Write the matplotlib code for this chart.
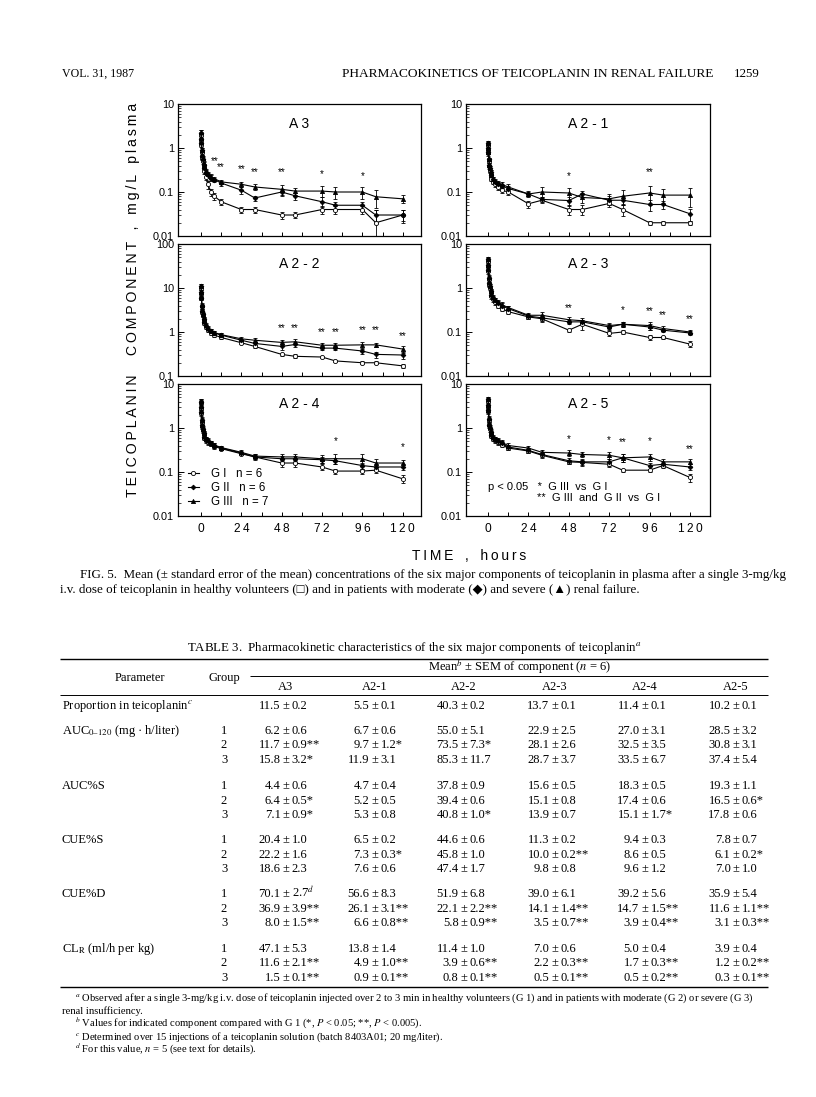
import matplotlib
matplotlib.use('Agg')
import matplotlib.pyplot as plt
from matplotlib.lines import Line2D
from matplotlib.ticker import FixedLocator, LogLocator, NullFormatter

plt.rcParams['font.family'] = ['Liberation Sans', 'DejaVu Sans']
plt.rcParams['mathtext.fontset'] = 'stix'

# sampling times (hours)
times = [0.08, 0.17, 0.25, 0.5, 0.75, 1, 1.5, 2, 3, 4, 6, 8, 12, 24, 32, 48, 56, 72, 80, 96, 104, 120]

# A3
a3_g1 = [2.0, 1.5, 1.2, 0.8, 0.6, 0.5, 0.38, 0.3, 0.22, 0.15, 0.1, 0.08, 0.06, 0.04, 0.04, 0.03, 0.03, 0.04, 0.04, 0.04, 0.02, 0.03]
a3_g2 = [2.2, 1.6, 1.3, 0.9, 0.65, 0.55, 0.42, 0.35, 0.28, 0.24, 0.21, 0.19, 0.16, 0.11, 0.073, 0.1, 0.082, 0.06, 0.05, 0.05, 0.03, 0.03]
a3_g3 = [2.3, 1.7, 1.35, 0.9, 0.7, 0.6, 0.45, 0.38, 0.3, 0.25, 0.22, 0.2, 0.17, 0.15, 0.13, 0.115, 0.105, 0.105, 0.1, 0.1, 0.078, 0.07]
a3_g1_err = [0.3, 0.2, 0.15, 0.1, 0.08, 0.06, 0.05, 0.04, 0.03, 0.03, 0.02, 0.015, 0.01, 0.006, 0.006, 0.006, 0.005, 0.008, 0.008, 0.008, 0.018, 0.008]
a3_g2_err = [0.3, 0.2, 0.15, 0.1, 0.08, 0.06, 0.05, 0.04, 0.03, 0.03, 0.03, 0.02, 0.02, 0.02, 0.01, 0.02, 0.015, 0.015, 0.01, 0.01, 0.01, 0.01]
a3_g3_err = [0.3, 0.2, 0.15, 0.1, 0.08, 0.06, 0.05, 0.04, 0.03, 0.03, 0.03, 0.02, 0.02, 0.02, 0.02, 0.03, 0.02, 0.03, 0.03, 0.03, 0.035, 0.015]
a3_stars = [(8, 0.5, '**'), (12, 0.37, '**'), (24, 0.34, '**'), (32, 0.29, '**'), (48, 0.29, '**'), (72, 0.26, '*'), (96, 0.23, '*')]

# A2-1
a21_g1 = [1.2, 0.9, 0.75, 0.5, 0.38, 0.3, 0.24, 0.2, 0.17, 0.15, 0.13, 0.11, 0.1, 0.054, 0.065, 0.04, 0.04, 0.055, 0.04, 0.02, 0.02, 0.02]
a21_g2 = [1.3, 1.0, 0.8, 0.55, 0.42, 0.35, 0.28, 0.24, 0.2, 0.17, 0.15, 0.14, 0.12, 0.09, 0.068, 0.064, 0.09, 0.065, 0.065, 0.052, 0.052, 0.032]
a21_g3 = [1.3, 1.0, 0.8, 0.55, 0.42, 0.35, 0.28, 0.24, 0.2, 0.18, 0.16, 0.15, 0.13, 0.09, 0.1, 0.095, 0.075, 0.07, 0.08, 0.095, 0.085, 0.085]
a21_g1_err = [0.15, 0.1, 0.08, 0.05, 0.04, 0.03, 0.03, 0.02, 0.02, 0.02, 0.02, 0.015, 0.015, 0.01, 0.01, 0.01, 0.01, 0.01, 0.012, 0.002, 0.002, 0.002]
a21_g2_err = [0.15, 0.1, 0.08, 0.05, 0.04, 0.03, 0.03, 0.02, 0.02, 0.02, 0.02, 0.015, 0.015, 0.01, 0.01, 0.015, 0.015, 0.015, 0.015, 0.015, 0.01, 0.01]
a21_g3_err = [0.15, 0.1, 0.08, 0.05, 0.04, 0.03, 0.03, 0.02, 0.02, 0.02, 0.02, 0.02, 0.02, 0.015, 0.03, 0.03, 0.02, 0.02, 0.03, 0.045, 0.03, 0.04]
a21_stars = [(48, 0.23, '*'), (96, 0.28, '**')]

# A2-2
a22_g1 = [10, 7.5, 5.8, 3.8, 2.9, 2.4, 1.9, 1.6, 1.3, 1.1, 0.95, 0.85, 0.75, 0.57, 0.47, 0.31, 0.28, 0.27, 0.22, 0.2, 0.2, 0.17]
a22_g2 = [11, 8, 6, 4, 3, 2.5, 2, 1.7, 1.4, 1.2, 1.05, 0.95, 0.85, 0.65, 0.55, 0.47, 0.52, 0.43, 0.43, 0.37, 0.31, 0.3]
a22_g3 = [11, 8.2, 6.2, 4.1, 3.1, 2.6, 2.05, 1.75, 1.45, 1.25, 1.08, 0.97, 0.87, 0.7, 0.65, 0.58, 0.6, 0.5, 0.5, 0.51, 0.51, 0.41]
a22_g1_err = [1.0, 0.8, 0.6, 0.4, 0.3, 0.25, 0.2, 0.15, 0.12, 0.1, 0.08, 0.07, 0.05, 0.04, 0.03, 0.02, 0.03, 0.02, 0.015, 0.015, 0.015, 0.015]
a22_g2_err = [1.2, 0.9, 0.7, 0.4, 0.3, 0.25, 0.2, 0.15, 0.12, 0.1, 0.1, 0.09, 0.08, 0.06, 0.05, 0.07, 0.07, 0.05, 0.05, 0.05, 0.05, 0.06]
a22_g3_err = [1.2, 0.9, 0.7, 0.4, 0.3, 0.25, 0.2, 0.15, 0.12, 0.1, 0.1, 0.09, 0.08, 0.07, 0.07, 0.08, 0.08, 0.06, 0.06, 0.07, 0.06, 0.07]
a22_stars = [(48, 1.2, '**'), (56, 1.2, '**'), (72, 1.0, '**'), (80, 1.0, '**'), (96, 1.1, '**'), (104, 1.1, '**'), (120, 0.8, '**')]

# A2-3
a23_g1 = [4.2, 3.1, 2.4, 1.6, 1.2, 1.0, 0.8, 0.65, 0.55, 0.47, 0.4, 0.34, 0.29, 0.22, 0.2, 0.11, 0.15, 0.093, 0.1, 0.075, 0.075, 0.053]
a23_g2 = [4.5, 3.3, 2.6, 1.7, 1.3, 1.1, 0.85, 0.7, 0.6, 0.52, 0.45, 0.4, 0.34, 0.23, 0.21, 0.17, 0.17, 0.13, 0.15, 0.13, 0.11, 0.095]
a23_g3 = [4.6, 3.4, 2.7, 1.75, 1.35, 1.12, 0.87, 0.72, 0.62, 0.54, 0.47, 0.42, 0.36, 0.24, 0.24, 0.19, 0.18, 0.14, 0.15, 0.14, 0.12, 0.1]
a23_g1_err = [0.5, 0.4, 0.3, 0.2, 0.15, 0.12, 0.1, 0.08, 0.07, 0.06, 0.05, 0.04, 0.03, 0.02, 0.03, 0.01, 0.04, 0.01, 0.01, 0.01, 0.005, 0.008]
a23_g2_err = [0.5, 0.4, 0.3, 0.2, 0.15, 0.12, 0.1, 0.08, 0.07, 0.06, 0.06, 0.05, 0.04, 0.03, 0.03, 0.02, 0.02, 0.02, 0.02, 0.02, 0.01, 0.01]
a23_g3_err = [0.5, 0.4, 0.3, 0.2, 0.15, 0.12, 0.1, 0.08, 0.07, 0.06, 0.06, 0.05, 0.04, 0.03, 0.04, 0.03, 0.03, 0.02, 0.02, 0.03, 0.015, 0.01]
a23_stars = [(48, 0.35, '**'), (80, 0.32, '*'), (96, 0.3, '**'), (104, 0.24, '**'), (120, 0.2, '**')]

# A2-4
a24_g1 = [3.8, 2.8, 2.2, 1.4, 1.1, 0.9, 0.72, 0.6, 0.52, 0.47, 0.43, 0.38, 0.34, 0.26, 0.22, 0.16, 0.16, 0.13, 0.105, 0.105, 0.11, 0.07]
a24_g2 = [4.0, 3.0, 2.3, 1.5, 1.15, 0.95, 0.75, 0.63, 0.55, 0.5, 0.45, 0.4, 0.35, 0.27, 0.22, 0.2, 0.2, 0.19, 0.18, 0.14, 0.13, 0.13]
a24_g3 = [4.1, 3.1, 2.4, 1.55, 1.2, 0.97, 0.77, 0.65, 0.57, 0.52, 0.46, 0.41, 0.36, 0.28, 0.23, 0.22, 0.22, 0.2, 0.2, 0.2, 0.16, 0.16]
a24_g1_err = [0.5, 0.4, 0.3, 0.2, 0.15, 0.12, 0.1, 0.08, 0.07, 0.06, 0.05, 0.05, 0.03, 0.02, 0.02, 0.03, 0.03, 0.02, 0.015, 0.015, 0.015, 0.015]
a24_g2_err = [0.5, 0.4, 0.3, 0.2, 0.15, 0.12, 0.1, 0.08, 0.07, 0.06, 0.05, 0.05, 0.04, 0.03, 0.03, 0.03, 0.03, 0.03, 0.03, 0.02, 0.02, 0.02]
a24_g3_err = [0.5, 0.4, 0.3, 0.2, 0.15, 0.12, 0.1, 0.08, 0.07, 0.06, 0.05, 0.05, 0.04, 0.03, 0.03, 0.04, 0.04, 0.04, 0.05, 0.05, 0.04, 0.03]
a24_stars = [(80, 0.5, '*'), (120, 0.36, '*')]

# A2-5
a25_g1 = [4.2, 3.1, 2.4, 1.5, 1.15, 0.95, 0.76, 0.66, 0.57, 0.52, 0.47, 0.42, 0.35, 0.3, 0.24, 0.17, 0.165, 0.15, 0.11, 0.11, 0.14, 0.075]
a25_g2 = [4.5, 3.3, 2.5, 1.6, 1.2, 1.0, 0.8, 0.7, 0.6, 0.55, 0.5, 0.45, 0.37, 0.31, 0.25, 0.18, 0.17, 0.17, 0.21, 0.14, 0.15, 0.13]
a25_g3 = [4.6, 3.4, 2.6, 1.65, 1.25, 1.05, 0.83, 0.72, 0.62, 0.57, 0.52, 0.47, 0.4, 0.35, 0.28, 0.27, 0.25, 0.24, 0.21, 0.22, 0.17, 0.17]
a25_g1_err = [0.5, 0.4, 0.3, 0.2, 0.15, 0.12, 0.1, 0.08, 0.07, 0.06, 0.05, 0.05, 0.04, 0.03, 0.03, 0.02, 0.02, 0.02, 0.01, 0.01, 0.015, 0.015]
a25_g2_err = [0.5, 0.4, 0.3, 0.2, 0.15, 0.12, 0.1, 0.08, 0.07, 0.06, 0.06, 0.05, 0.05, 0.04, 0.03, 0.03, 0.03, 0.03, 0.04, 0.02, 0.02, 0.02]
a25_g3_err = [0.5, 0.4, 0.3, 0.2, 0.15, 0.12, 0.1, 0.08, 0.07, 0.06, 0.06, 0.05, 0.05, 0.05, 0.04, 0.04, 0.03, 0.04, 0.04, 0.04, 0.03, 0.03]
a25_stars = [(48, 0.55, '*'), (72, 0.52, '*'), (80, 0.48, '**'), (96, 0.5, '*'), (120, 0.33, '**')]

legend_labels = ['G I   n = 6', 'G II   n = 6', 'G III   n = 7']

# table 3
components = ['A3', 'A2-1', 'A2-2', 'A2-3', 'A2-4', 'A2-5']
proportion = ['11.5 ± 0.2', '5.5 ± 0.1', '40.3 ± 0.2', '13.7 ± 0.1', '11.4 ± 0.1', '10.2 ± 0.1']
auc = [['6.2 ± 0.6', '6.7 ± 0.6', '55.0 ± 5.1', '22.9 ± 2.5', '27.0 ± 3.1', '28.5 ± 3.2'],
       ['11.7 ± 0.9**', '9.7 ± 1.2*', '73.5 ± 7.3*', '28.1 ± 2.6', '32.5 ± 3.5', '30.8 ± 3.1'],
       ['15.8 ± 3.2*', '11.9 ± 3.1', '85.3 ± 11.7', '28.7 ± 3.7', '33.5 ± 6.7', '37.4 ± 5.4']]
auc_s = [['4.4 ± 0.6', '4.7 ± 0.4', '37.8 ± 0.9', '15.6 ± 0.5', '18.3 ± 0.5', '19.3 ± 1.1'],
         ['6.4 ± 0.5*', '5.2 ± 0.5', '39.4 ± 0.6', '15.1 ± 0.8', '17.4 ± 0.6', '16.5 ± 0.6*'],
         ['7.1 ± 0.9*', '5.3 ± 0.8', '40.8 ± 1.0*', '13.9 ± 0.7', '15.1 ± 1.7*', '17.8 ± 0.6']]
cue_s = [['20.4 ± 1.0', '6.5 ± 0.2', '44.6 ± 0.6', '11.3 ± 0.2', '9.4 ± 0.3', '7.8 ± 0.7'],
         ['22.2 ± 1.6', '7.3 ± 0.3*', '45.8 ± 1.0', '10.0 ± 0.2**', '8.6 ± 0.5', '6.1 ± 0.2*'],
         ['18.6 ± 2.3', '7.6 ± 0.6', '47.4 ± 1.7', '9.8 ± 0.8', '9.6 ± 1.2', '7.0 ± 1.0']]
cue_d = [['70.1 ± 2.7$^{d}$', '56.6 ± 8.3', '51.9 ± 6.8', '39.0 ± 6.1', '39.2 ± 5.6', '35.9 ± 5.4'],
         ['36.9 ± 3.9**', '26.1 ± 3.1**', '22.1 ± 2.2**', '14.1 ± 1.4**', '14.7 ± 1.5**', '11.6 ± 1.1**'],
         ['8.0 ± 1.5**', '6.6 ± 0.8**', '5.8 ± 0.9**', '3.5 ± 0.7**', '3.9 ± 0.4**', '3.1 ± 0.3**']]
cl_r = [['47.1 ± 5.3', '13.8 ± 1.4', '11.4 ± 1.0', '7.0 ± 0.6', '5.0 ± 0.4', '3.9 ± 0.4'],
        ['11.6 ± 2.1**', '4.9 ± 1.0**', '3.9 ± 0.6**', '2.2 ± 0.3**', '1.7 ± 0.3**', '1.2 ± 0.2**'],
        ['1.5 ± 0.1**', '0.9 ± 0.1**', '0.8 ± 0.1**', '0.5 ± 0.1**', '0.5 ± 0.2**', '0.3 ± 0.1**']]
param_names = ['AUC$_{0\u2013120}$ (mg · h/liter)', 'AUC%S', 'CUE%S', 'CUE%D', 'CL$_{\\mathrm{R}}$ (ml/h per kg)']
param_blocks = [auc, auc_s, cue_s, cue_d, cl_r]


def spaced(s, gap='\u2009'):
    return gap.join(s)


W, H = 816, 1097
fig = plt.figure(figsize=(W / 100, H / 100), dpi=100)

# page axes in pixel coordinates for the text and the table
page = fig.add_axes([0, 0, 1, 1])
page.set_xlim(0, W)
page.set_ylim(H, 0)
page.axis('off')

serif = ['Liberation Serif', 'DejaVu Sans']

# header
page.text(62, 77, 'VOL. 31, 1987', family=serif, fontsize=8.6, va='baseline')
page.text(342, 77, 'PHARMACOKINETICS OF TEICOPLANIN IN RENAL FAILURE', family=serif, fontsize=9.6, va='baseline')
page.text(760, 77, '1259', family=serif, fontsize=9.4, va='baseline', ha='right')

# panels
col_x = [(178, 421, -13.7, 130.9), (466, 710, -13.1, 131.9)]
row_y = [(104, 236), (244, 376), (384, 516)]

panels = [
    ('A 3', a3_g1, a3_g2, a3_g3, a3_g1_err, a3_g2_err, a3_g3_err, a3_stars, (0.01, 10), 0, 0),
    ('A 2 - 1', a21_g1, a21_g2, a21_g3, a21_g1_err, a21_g2_err, a21_g3_err, a21_stars, (0.01, 10), 0, 1),
    ('A 2 - 2', a22_g1, a22_g2, a22_g3, a22_g1_err, a22_g2_err, a22_g3_err, a22_stars, (0.1, 100), 1, 0),
    ('A 2 - 3', a23_g1, a23_g2, a23_g3, a23_g1_err, a23_g2_err, a23_g3_err, a23_stars, (0.01, 10), 1, 1),
    ('A 2 - 4', a24_g1, a24_g2, a24_g3, a24_g1_err, a24_g2_err, a24_g3_err, a24_stars, (0.01, 10), 2, 0),
    ('A 2 - 5', a25_g1, a25_g2, a25_g3, a25_g1_err, a25_g2_err, a25_g3_err, a25_stars, (0.01, 10), 2, 1),
]

styles = [dict(marker='o', ms=3, mfc='white'),
          dict(marker='D', ms=2.4, mfc='black'),
          dict(marker='^', ms=3, mfc='black')]

decade_labels = {0.01: '0.01', 0.1: '0.1', 1: '1', 10: '10', 100: '100'}

for name, g1, g2, g3, e1, e2, e3, stars, ylim, r, c in panels:
    x0, x1, xmin, xmax = col_x[c]
    y0, y1 = row_y[r]
    ax = fig.add_axes([x0 / W, 1 - y1 / H, (x1 - x0) / W, (y1 - y0) / H])
    for vals, errs, st in zip([g1, g2, g3], [e1, e2, e3], styles):
        ax.errorbar(times, vals, yerr=errs, color='black', lw=0.8, mec='black', mew=0.6,
                    elinewidth=0.6, capsize=1.6, capthick=0.6, **st)
    for t, y, s in stars:
        ax.text(t, y, s, ha='center', va='center', fontsize=7)
    ax.set_yscale('log')
    ax.set_ylim(*ylim)
    ax.set_xlim(xmin, xmax)
    ticks = [v for v in [0.01, 0.1, 1, 10, 100] if ylim[0] <= v <= ylim[1]]
    ax.yaxis.set_major_locator(FixedLocator(ticks))
    ax.set_yticklabels([decade_labels[v] for v in ticks])
    ax.yaxis.set_minor_locator(LogLocator(subs=range(2, 10)))
    ax.yaxis.set_minor_formatter(NullFormatter())
    ax.set_xticks([0, 24, 48, 72, 96, 120])
    ax.set_xticks([12, 36, 60, 84, 108], minor=True)
    if r == 2:
        ax.set_xticklabels([spaced(str(v)) for v in [0, 24, 48, 72, 96, 120]], fontsize=8.6)
    else:
        ax.set_xticklabels([])
    ax.tick_params(which='both', direction='in', top=False, right=False)
    ax.tick_params(axis='y', which='major', length=4, width=0.7, labelsize=7.8, pad=3)
    ax.tick_params(axis='y', which='minor', length=2, width=0.5)
    ax.tick_params(axis='x', which='both', length=3, width=0.7, pad=5)
    for sp in ax.spines.values():
        sp.set_linewidth(0.9)
    ax.text(0.5, 0.85, name, transform=ax.transAxes, ha='center', va='center', fontsize=10)

    if name == 'A 2 - 4':
        handles = [Line2D([], [], color='black', lw=0.8, mec='black', mew=0.6, **st) for st in styles]
        ax.legend(handles, legend_labels, loc='lower left', bbox_to_anchor=(0.04, 0.06),
                  frameon=False, fontsize=8.3, handlelength=1.0, handletextpad=1.0,
                  labelspacing=0.18, borderpad=0, borderaxespad=0)
    if name == 'A 2 - 5':
        ax.text(0.09, 0.22, 'p < 0.05   *  G III  vs  G I', transform=ax.transAxes,
                fontsize=8, va='center')
        ax.text(0.29, 0.135, '**  G III  and  G II  vs  G I', transform=ax.transAxes,
                fontsize=8, va='center')

# shared axis titles
ylab = (spaced('TEICOPLANIN') + '     ' + spaced('COMPONENT') + '   ,   '
        + spaced('mg/L') + '   ' + spaced('plasma'))
page.text(133, 300, ylab, rotation=90, ha='center', va='center', fontsize=10.2)
page.text(469, 556, spaced('TIME') + '   ,   ' + spaced('hours'), ha='center', va='center', fontsize=10)

# figure caption
cfs = 9.35
page.text(80, 578, 'FIG. 5.  Mean (± standard error of the mean) concentrations of the six major components of '
          'teicoplanin in plasma after a single 3-mg/kg', family=serif, fontsize=cfs, va='baseline')
page.text(60, 593, 'i.v. dose of teicoplanin in healthy volunteers (\u25a1) and in patients with moderate '
          '(\u25c6) and severe (\u25b2) renal failure.', family=serif, fontsize=cfs, va='baseline')

# table
tfs = 9.0
page.text(414, 651, 'TABLE 3.  Pharmacokinetic characteristics of the six major components of teicoplanin$^{a}$',
          family=serif, fontsize=9.3, ha='center', va='baseline')
page.hlines(659, 60, 768, color='black', lw=1.0)
page.text(520, 671, 'Mean$^{b}$ ± SEM of component ($n$ = 6)', family=serif, fontsize=tfs,
          ha='center', va='baseline')
page.hlines(676, 250, 768, color='black', lw=0.7)
page.text(140, 681, 'Parameter', family=serif, fontsize=tfs, ha='center', va='baseline')
page.text(224, 681, 'Group', family=serif, fontsize=tfs, ha='center', va='baseline')
cx = [286, 375, 464, 555, 645, 736]
for x, comp in zip(cx, components):
    page.text(x, 690, comp, family=serif, fontsize=tfs, ha='center', va='baseline')
page.hlines(695, 60, 768, color='black', lw=0.7)


def cell(x, y, s):
    left, right = s.split(' ± ')
    page.text(x - 5.5, y, left, family=serif, fontsize=tfs, ha='right', va='baseline')
    page.text(x, y, '±', family=serif, fontsize=tfs, ha='center', va='baseline')
    page.text(x + 5.5, y, right, family=serif, fontsize=tfs, ha='left', va='baseline')


page.text(62, 709, 'Proportion in teicoplanin$^{c}$', family=serif, fontsize=tfs, va='baseline')
for x, s in zip(cx, proportion):
    cell(x, 709, s)

block_y = [734, 789, 843, 897, 952]
for pname, block, by in zip(param_names, param_blocks, block_y):
    page.text(62, by, pname, family=serif, fontsize=tfs, va='baseline')
    for gi, rowvals in enumerate(block):
        yy = by + gi * 14.5
        page.text(224, yy, str(gi + 1), family=serif, fontsize=tfs, ha='center', va='baseline')
        for x, s in zip(cx, rowvals):
            cell(x, yy, s)
page.hlines(987, 60, 768, color='black', lw=1.0)

# footnotes
ffs = 7.6
page.text(75, 1001, '$^{a}$ Observed after a single 3-mg/kg i.v. dose of teicoplanin injected over 2 to 3 min in '
          'healthy volunteers (G 1) and in patients with moderate (G 2) or severe (G 3)',
          family=serif, fontsize=ffs, va='baseline')
page.text(62, 1014, 'renal insufficiency.', family=serif, fontsize=ffs, va='baseline')
page.text(75, 1027, '$^{b}$ Values for indicated component compared with G 1 (*, $P$ < 0.05; **, $P$ < 0.005).',
          family=serif, fontsize=ffs, va='baseline')
page.text(75, 1040, '$^{c}$ Determined over 15 injections of a teicoplanin solution (batch 8403A01; 20 mg/liter).',
          family=serif, fontsize=ffs, va='baseline')
page.text(75, 1053, '$^{d}$ For this value, $n$ = 5 (see text for details).', family=serif, fontsize=ffs,
          va='baseline')

fig.savefig('out.png', dpi=100)
